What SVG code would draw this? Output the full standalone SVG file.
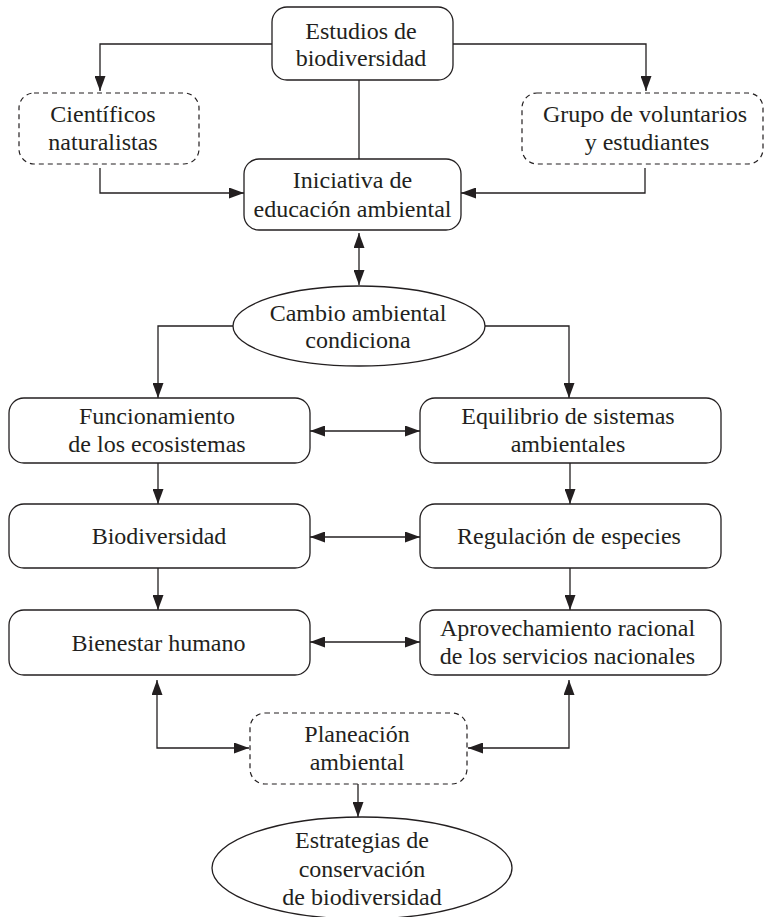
<svg xmlns="http://www.w3.org/2000/svg" width="765" height="917" viewBox="0 0 765 917">
  <defs>
    <marker id="arrow" viewBox="0 0 15 11" markerWidth="15" markerHeight="11" refX="15" refY="5.5" orient="auto-start-reverse" markerUnits="userSpaceOnUse">
      <path d="M0,0 L15,5.5 L0,11 Z" fill="#231f20"/>
    </marker>
    <style>
      .box { fill: #ffffff; stroke: #231f20; stroke-width: 1.3; }
      .dash { fill: #ffffff; stroke: #231f20; stroke-width: 1.2; stroke-dasharray: 5 4; }
      .conn path { fill: none; stroke: #231f20; stroke-width: 1.3; }
      .one { marker-end: url(#arrow); }
      .two { marker-start: url(#arrow); marker-end: url(#arrow); }
    </style>
  </defs>
  <rect width="765" height="917" fill="#ffffff"/>

  <!-- connectors -->
  <g id="connectors" class="conn">
    <path class="one" d="M272,44 H100 V91"/>
    <path class="one" d="M453,44 H646 V91"/>
    <path d="M359,80 V159"/>
    <path class="one" d="M100,168 V193 H244"/>
    <path class="one" d="M645,168 V193 H461"/>
    <path class="two" d="M359,233 V285"/>
    <path class="one" d="M233,326 H158 V398"/>
    <path class="one" d="M485,326 H569 V398"/>
    <path class="two" d="M310,431 H420"/>
    <path class="one" d="M158,463 V504"/>
    <path class="one" d="M570,463 V504"/>
    <path class="two" d="M310,537 H420"/>
    <path class="one" d="M158,568 V610"/>
    <path class="one" d="M570,568 V610"/>
    <path class="two" d="M310,642 H420"/>
    <path class="two" d="M249,748 H157 V680"/>
    <path class="two" d="M468,748 H569 V680"/>
    <path class="one" d="M358,784 V817"/>
  </g>

  <g font-family="Liberation Serif, serif" font-size="24" fill="#231f20" text-anchor="middle">
    <g id="estudios">
      <rect class="box" x="272" y="7" width="181" height="73" rx="15"/>
      <text x="361" y="39">Estudios de</text>
      <text x="361" y="66">biodiversidad</text>
    </g>

    <g id="cientificos">
      <rect class="dash" x="19" y="93" width="180" height="71" rx="15"/>
      <text x="103" y="122">Científicos</text>
      <text x="103" y="150">naturalistas</text>
    </g>

    <g id="voluntarios">
      <rect class="dash" x="522" y="93" width="241" height="71" rx="15"/>
      <text x="645" y="122">Grupo de voluntarios</text>
      <text x="647" y="150">y estudiantes</text>
    </g>

    <g id="iniciativa">
      <rect class="box" x="244" y="159" width="217" height="71" rx="15"/>
      <text x="352.5" y="188">Iniciativa de</text>
      <text x="352.5" y="217">educación ambiental</text>
    </g>

    <g id="cambio">
      <ellipse class="box" cx="359" cy="326" rx="126" ry="40"/>
      <text x="358" y="321">Cambio ambiental</text>
      <text x="358" y="348">condiciona</text>
    </g>

    <g id="funcionamiento">
      <rect class="box" x="9" y="398" width="301" height="65" rx="15"/>
      <text x="157" y="424">Funcionamiento</text>
      <text x="157" y="452">de los ecosistemas</text>
    </g>

    <g id="equilibrio">
      <rect class="box" x="420" y="398" width="301" height="65" rx="15"/>
      <text x="568" y="424">Equilibrio de sistemas</text>
      <text x="568" y="452">ambientales</text>
    </g>

    <g id="biodiversidad">
      <rect class="box" x="9" y="504" width="301" height="64" rx="15"/>
      <text x="159" y="544">Biodiversidad</text>
    </g>

    <g id="regulacion">
      <rect class="box" x="420" y="504" width="301" height="64" rx="15"/>
      <text x="569" y="544">Regulación de especies</text>
    </g>

    <g id="bienestar">
      <rect class="box" x="9" y="610" width="301" height="65" rx="15"/>
      <text x="158.5" y="651">Bienestar humano</text>
    </g>

    <g id="aprovechamiento">
      <rect class="box" x="420" y="610" width="301" height="65" rx="15"/>
      <text x="567.5" y="636">Aprovechamiento racional</text>
      <text x="567.5" y="664">de los servicios nacionales</text>
    </g>

    <g id="planeacion">
      <rect class="dash" x="250" y="713" width="217" height="71" rx="15"/>
      <text x="357" y="742">Planeación</text>
      <text x="357" y="770">ambiental</text>
    </g>

    <g id="estrategias">
      <ellipse class="box" cx="362" cy="868" rx="150" ry="51"/>
      <text x="362" y="848">Estrategias de</text>
      <text x="362" y="877">conservación</text>
      <text x="362" y="905">de biodiversidad</text>
    </g>
  </g>
</svg>
